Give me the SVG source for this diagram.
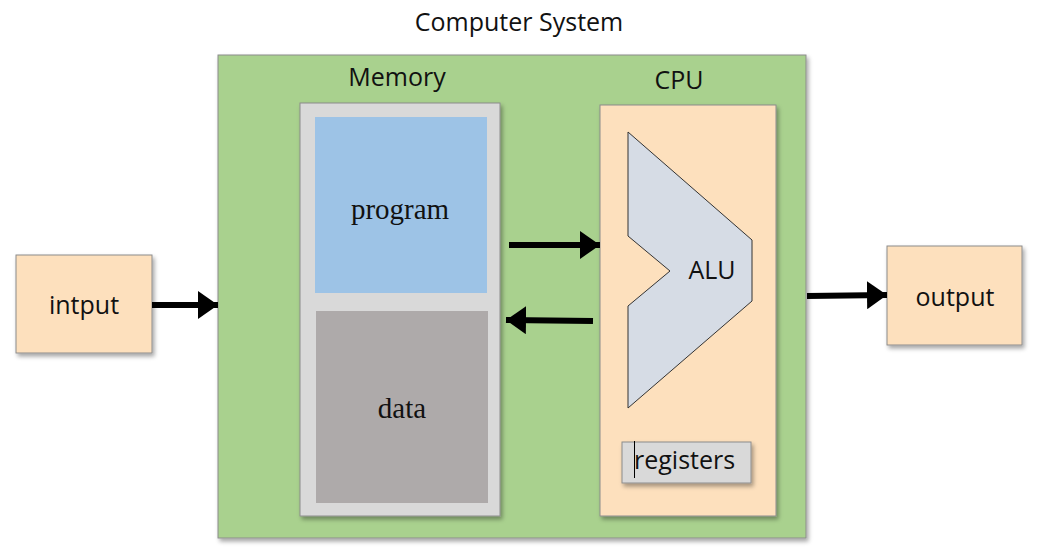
<svg xmlns="http://www.w3.org/2000/svg" width="1038" height="553" viewBox="0 0 1038 553">
<style>
.sans{font-family:"Open Sans","Noto Sans","Liberation Sans",sans-serif;fill:#111;font-size:25px;}
.serif{font-family:"Liberation Serif","DejaVu Serif",serif;fill:#111;font-size:29px;}
.box{stroke:#8c8c8c;stroke-width:1;}
.arrow{stroke:#000;stroke-width:6;fill:none;}
</style>
<defs>
<filter id="sh" x="-10%" y="-10%" width="130%" height="130%">
<feDropShadow dx="2" dy="3" stdDeviation="2" flood-color="#000" flood-opacity="0.35"/>
</filter>
<marker id="ah" viewBox="0 0 20 28" refX="20" refY="14" markerWidth="20" markerHeight="28" markerUnits="userSpaceOnUse" orient="auto">
<path d="M0,0 L20,14 L0,28 Z" fill="#000"/>
</marker>
</defs>
<rect width="1038" height="553" fill="#fff"/>
<text class="sans" x="519" y="31" text-anchor="middle">Computer System</text>
<g id="system">
<rect class="box" x="218" y="55" width="588" height="483" fill="#a9d18e" filter="url(#sh)"/>
</g>
<g id="memory">
<text class="sans" x="397" y="86" text-anchor="middle">Memory</text>
<rect class="box" x="300" y="103" width="200" height="413" fill="#d9d9d9" filter="url(#sh)"/>
</g>
<g id="program">
<rect x="315" y="117" width="172" height="176" fill="#9dc3e6"/>
<text class="serif" x="400" y="219" text-anchor="middle">program</text>
</g>
<g id="data">
<rect x="316" y="311" width="172" height="192" fill="#aeaaaa"/>
<text class="serif" x="402" y="418" text-anchor="middle">data</text>
</g>
<g id="cpu">
<text class="sans" x="679" y="89" text-anchor="middle">CPU</text>
<rect class="box" x="600" y="105" width="176" height="411" fill="#fde0bd" filter="url(#sh)"/>
</g>
<g id="alu">
<polygon points="628,132 752,240 752,301 628,408 628,306 670,271 628,236" fill="#d6dce5" stroke="#333" stroke-width="1"/>
<text class="sans" x="712" y="279" text-anchor="middle">ALU</text>
</g>
<g id="registers">
<rect class="box" x="622" y="442" width="129" height="41" fill="#d9d9d9" filter="url(#sh)"/>
<line x1="634.5" y1="441" x2="634.5" y2="478" stroke="#000" stroke-width="1"/>
<text class="sans" x="634" y="469">registers</text>
</g>
<g id="input">
<rect class="box" x="16" y="255" width="136" height="98" fill="#fde0bd" filter="url(#sh)"/>
<text class="sans" x="84" y="314" text-anchor="middle">intput</text>
</g>
<g id="output">
<rect class="box" x="887" y="246" width="135" height="99" fill="#fde0bd" filter="url(#sh)"/>
<text class="sans" x="955" y="306" text-anchor="middle">output</text>
</g>
<g id="connectors">
<line class="arrow" x1="152" y1="305" x2="218" y2="305" marker-end="url(#ah)"/>
<line class="arrow" x1="509" y1="245" x2="600" y2="245" marker-end="url(#ah)"/>
<line class="arrow" x1="593" y1="321" x2="506" y2="320" marker-end="url(#ah)"/>
<line class="arrow" x1="807" y1="296" x2="887" y2="295" marker-end="url(#ah)"/>
</g>
</svg>
